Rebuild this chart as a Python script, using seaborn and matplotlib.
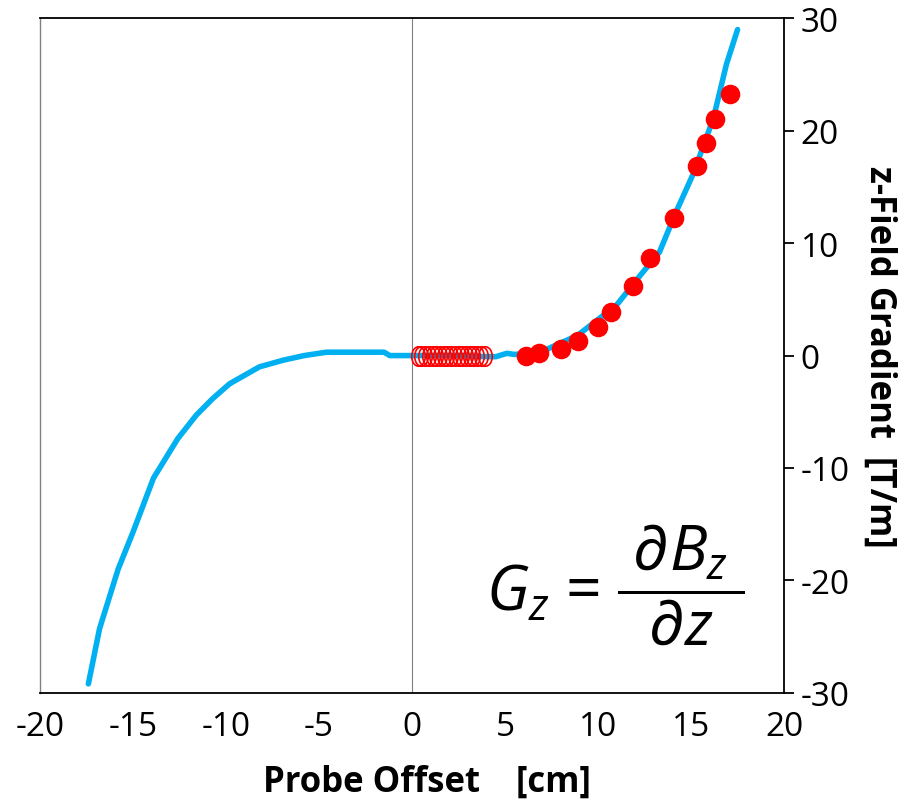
import numpy as np
import pandas as pd
import seaborn as sns
import matplotlib.pyplot as plt
from matplotlib.path import Path

# fitted gradient curve
curve_x = [-17.4, -16.8, -15.8, -15.0, -13.9, -12.6, -11.6, -10.7, -9.8, -8.2,
           -6.9, -5.8, -4.6, -1.5, -1.2, -0.2, 1.0, 2.5, 4.0, 4.5, 5.1, 5.5,
           6.9, 8.9, 11.0, 12.3, 13.3, 14.2, 15.1, 16.2, 16.9, 17.5]
curve_y = [-29.2, -24.3, -19.0, -15.7, -10.9, -7.4, -5.3, -3.8, -2.5, -1.0,
           -0.4, 0.0, 0.3, 0.3, 0.0, 0.0, 0.0, 0.0, -0.1, -0.1, 0.2, 0.1,
           0.3, 1.8, 4.5, 7.2, 9.2, 12.8, 16.1, 21.1, 25.9, 29.0]

# measured points, outer region
meas_x = [6.1, 6.8, 8.0, 8.9, 10.0, 10.7, 11.9, 12.8, 14.1, 15.3, 15.8, 16.3, 17.1]
meas_y = [0.0, 0.2, 0.6, 1.3, 2.5, 3.9, 6.2, 8.7, 12.2, 16.9, 18.9, 21.0, 23.3]

# measured points, centre region
inner_x = [0.3, 0.5, 0.7, 0.9, 1.1, 1.3, 1.5, 1.7, 1.9, 2.1, 2.3, 2.5, 2.7,
           2.9, 3.1, 3.3, 3.5, 3.7, 3.9]
inner_y = [0.0] * len(inner_x)

xticks = [-20, -15, -10, -5, 0, 5, 10, 15, 20]
yticks = [-30, -20, -10, 0, 10, 20, 30]

sns.set_style('white')
plt.rcParams['font.family'] = ['Open Sans', 'DejaVu Sans']
plt.rcParams['mathtext.fontset'] = 'custom'
plt.rcParams['mathtext.it'] = 'Open Sans:italic'
plt.rcParams['mathtext.rm'] = 'Open Sans'
plt.rcParams['axes.unicode_minus'] = False
plt.rcParams['text.color'] = 'black'
plt.rcParams['axes.labelcolor'] = 'black'
plt.rcParams['xtick.color'] = 'black'
plt.rcParams['ytick.color'] = 'black'

curve = pd.DataFrame({'x': curve_x, 'y': curve_y})
meas = pd.DataFrame({'x': meas_x, 'y': meas_y})
inner = pd.DataFrame({'x': inner_x, 'y': inner_y})

# tall narrow ellipse for the open markers
circ = Path.unit_circle()
ellipse = Path(circ.vertices * np.array([0.7, 1.0]), circ.codes)

fig = plt.figure(figsize=(9.03, 8.04), dpi=100)
ax = fig.add_axes([0.0443, 0.137, 0.824, 0.839])

ax.axvline(0, color='#808080', lw=0.8, zorder=1)
sns.lineplot(data=curve, x='x', y='y', sort=False, color='#00B0F0', lw=4,
             ax=ax, zorder=2)
sns.scatterplot(data=meas, x='x', y='y', color='red', s=170, marker='o',
                edgecolor='red', ax=ax, zorder=3)
ax.plot(inner['x'], inner['y'], ls='none', marker=ellipse, ms=14,
        mfc='none', mec='red', mew=1.2, zorder=3)

ax.set_xlim(-20, 20)
ax.set_ylim(-30, 30)
ax.set_xticks(xticks)
ax.set_yticks(yticks)
ax.yaxis.tick_right()
ax.yaxis.set_label_position('right')
ax.tick_params(axis='both', direction='out', length=7, width=1.3,
               labelsize=24, pad=5)

for side in ['top', 'bottom', 'right']:
    ax.spines[side].set_color('black')
    ax.spines[side].set_linewidth(1.3)
ax.spines['left'].set_color('#808080')
ax.spines['left'].set_linewidth(1.0)

ax.set_xlabel('Probe Offset    [cm]', fontsize=25, fontweight='bold')
ax.xaxis.set_label_coords(0.52, -0.105)
ax.set_ylabel('z-Field Gradient  [T/m]', fontsize=25, fontweight='bold',
              rotation=270, labelpad=34)

ax.text(0.6, 0.16, r'$G_z$ = $\dfrac{\;\partial B_z\;}{\partial z}$',
        transform=ax.transAxes, fontsize=45, ha='left', va='center')

fig.savefig('out.png', dpi=100)
